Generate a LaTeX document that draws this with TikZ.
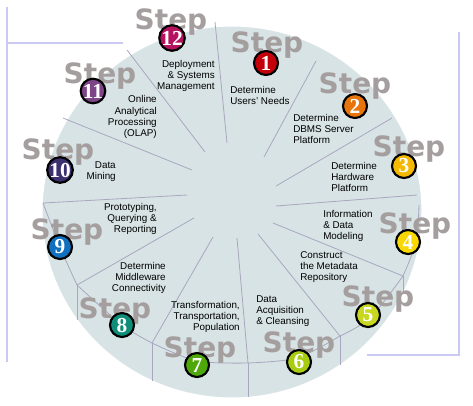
\documentclass[tikz,border=0pt]{standalone}
\usepackage{fontspec}
\setmainfont{Liberation Sans}
\newfontfamily\stepfont{DejaVu Sans}
\newfontfamily\numfont{Liberation Serif}

\definecolor{wheel}{HTML}{D8E3E5}
\definecolor{spokecol}{HTML}{A9A7BF}
\definecolor{framecol}{HTML}{C9C9F2}
\definecolor{stepgray}{HTML}{A59E9E}
\definecolor{c1}{HTML}{C4000A}
\definecolor{c2}{HTML}{E8750A}
\definecolor{c3}{HTML}{F5B800}
\definecolor{c4}{HTML}{F8D800}
\definecolor{c5}{HTML}{C8D820}
\definecolor{c6}{HTML}{A8CC10}
\definecolor{c7}{HTML}{4EA80A}
\definecolor{c8}{HTML}{0E8E78}
\definecolor{c9}{HTML}{1070C0}
\definecolor{c10}{HTML}{3C2F6E}
\definecolor{c11}{HTML}{7E4488}
\definecolor{c12}{HTML}{B5125F}

\begin{document}
\begin{tikzpicture}[
    x=0.75pt, y=-0.75pt,
    steplabel/.style={anchor=base, inner sep=0, text=stepgray, font=\stepfont\bfseries\fontsize{21}{21}\selectfont},
    numdisc/.style={circle, draw=black, line width=1.6pt, inner sep=0, minimum size=18pt, text=white, font=\numfont\bfseries\fontsize{16}{16}\selectfont},
    desc/.style={inner sep=0, font=\fontsize{7.4}{8.3}\selectfont},
    spoke/.style={draw=spokecol, line width=0.6pt},
    frame/.style={draw=framecol, line width=1.5pt}
]
\useasboundingbox (0,0) rectangle (473,405);

% frame
\draw[frame] (7,7) -- (7,362);
\draw[frame] (7,43) -- (123,43);
\draw[frame] (459,32) -- (459,355) -- (367,355);

% wheel
\fill[wheel] (232,212) ellipse [x radius=190, y radius=186];
\draw[white, line width=0.8pt] (232,212) ellipse [x radius=190, y radius=186];

% spokes
\draw[spoke] (205,152) -- (127,50);
\draw[spoke] (227,143) -- (215,22);
\draw[spoke] (264,157) -- (316,61);
\draw[spoke] (276,186) -- (392,118);
\draw[spoke] (276,206) -- (417,195);
\draw[spoke] (273,223) -- (403,276);
\draw[spoke] (258,234) -- (340,336);
\draw[spoke] (237,238) -- (248,363);
\draw[spoke] (213,237) -- (152,343);
\draw[spoke] (194,218) -- (77,285);
\draw[spoke] (187,195) -- (43,203);
\draw[spoke] (192,170) -- (63,118);

% rims of the lower slices
\draw[spoke] plot[smooth] coordinates {(43,203) (60,247) (77,285)};
\draw[spoke] plot[smooth] coordinates {(77,285) (122,325) (152,343)};
\draw[spoke] plot[smooth] coordinates {(152,343) (197,361) (248,363)};
\draw[spoke] plot[smooth] coordinates {(248,363) (297,358) (340,336)};
\draw[spoke] plot[smooth] coordinates {(340,336) (370,318) (403,276)};
\draw[spoke] plot[smooth] coordinates {(403,276) (416,242) (419,205)};
\draw[spoke] (77,285) -- (77,320);
\draw[spoke] (152,343) -- (152,381);
\draw[spoke] (248,363) -- (248,397);
\draw[spoke] (340,336) -- (340,365);
\draw[spoke] (403,276) -- (403,293);

% Step words
\node[steplabel] (step12) at (171,29) {Step};
\node[steplabel] (step1) at (267,52) {Step};
\node[steplabel] (step2) at (355,93) {Step};
\node[steplabel] (step3) at (409,156) {Step};
\node[steplabel] (step4) at (415,233) {Step};
\node[steplabel] (step5) at (378,306) {Step};
\node[steplabel] (step6) at (299,352) {Step};
\node[steplabel] (step7) at (200,357) {Step};
\node[steplabel] (step8) at (115,318) {Step};
\node[steplabel] (step9) at (67,239) {Step};
\node[steplabel] (step10) at (58,159) {Step};
\node[steplabel] (step11) at (100,83) {Step};

% numbered discs
\node[numdisc, fill=c12] (num12) at (172,38) {12};
\node[numdisc, fill=c1] (num1) at (266,63) {1};
\node[numdisc, fill=c2] (num2) at (355,106) {2};
\node[numdisc, fill=c3] (num3) at (404,166) {3};
\node[numdisc, fill=c4] (num4) at (408,242) {4};
\node[numdisc, fill=c5] (num5) at (368,315) {5};
\node[numdisc, fill=c6] (num6) at (299,362) {6};
\node[numdisc, fill=c7] (num7) at (197,365) {7};
\node[numdisc, fill=c8] (num8) at (122,325) {8};
\node[numdisc, fill=c9] (num9) at (60,247) {9};
\node[numdisc, fill=c10] (num10) at (60,170) {10};
\node[numdisc, fill=c11] (num11) at (93,91) {11};

% step texts
\node[desc, anchor=east, align=right] (txt12) at (215,76) {Deployment\\\& Systems\\Management};
\node[desc, anchor=west, align=left] (txt1) at (230,95) {Determine\\Users' Needs};
\node[desc, anchor=west, align=left] (txt2) at (293,129) {Determine\\DBMS Server\\Platform};
\node[desc, anchor=west, align=left] (txt3) at (331,177) {Determine\\Hardware\\Platform};
\node[desc, anchor=west, align=left] (txt4) at (323,226) {Information\\\& Data\\Modeling};
\node[desc, anchor=west, align=left] (txt5) at (300,267) {Construct\\the Metadata\\Repository};
\node[desc, anchor=west, align=left] (txt6) at (256,311) {Data\\Acquisition\\\& Cleansing};
\node[desc, anchor=east, align=right] (txt7) at (240,317) {Transformation,\\Transportation,\\Population};
\node[desc, anchor=east, align=right] (txt8) at (166,278) {Determine\\Middleware\\Connectivity};
\node[desc, anchor=east, align=right] (txt9) at (157,219) {Prototyping,\\Querying \&\\Reporting};
\node[desc, anchor=east, align=right] (txt10) at (116,172) {Data\\Mining};
\node[desc, anchor=east, align=right] (txt11) at (157,117) {Online\\Analytical\\Processing\\(OLAP)};

\end{tikzpicture}
\end{document}
